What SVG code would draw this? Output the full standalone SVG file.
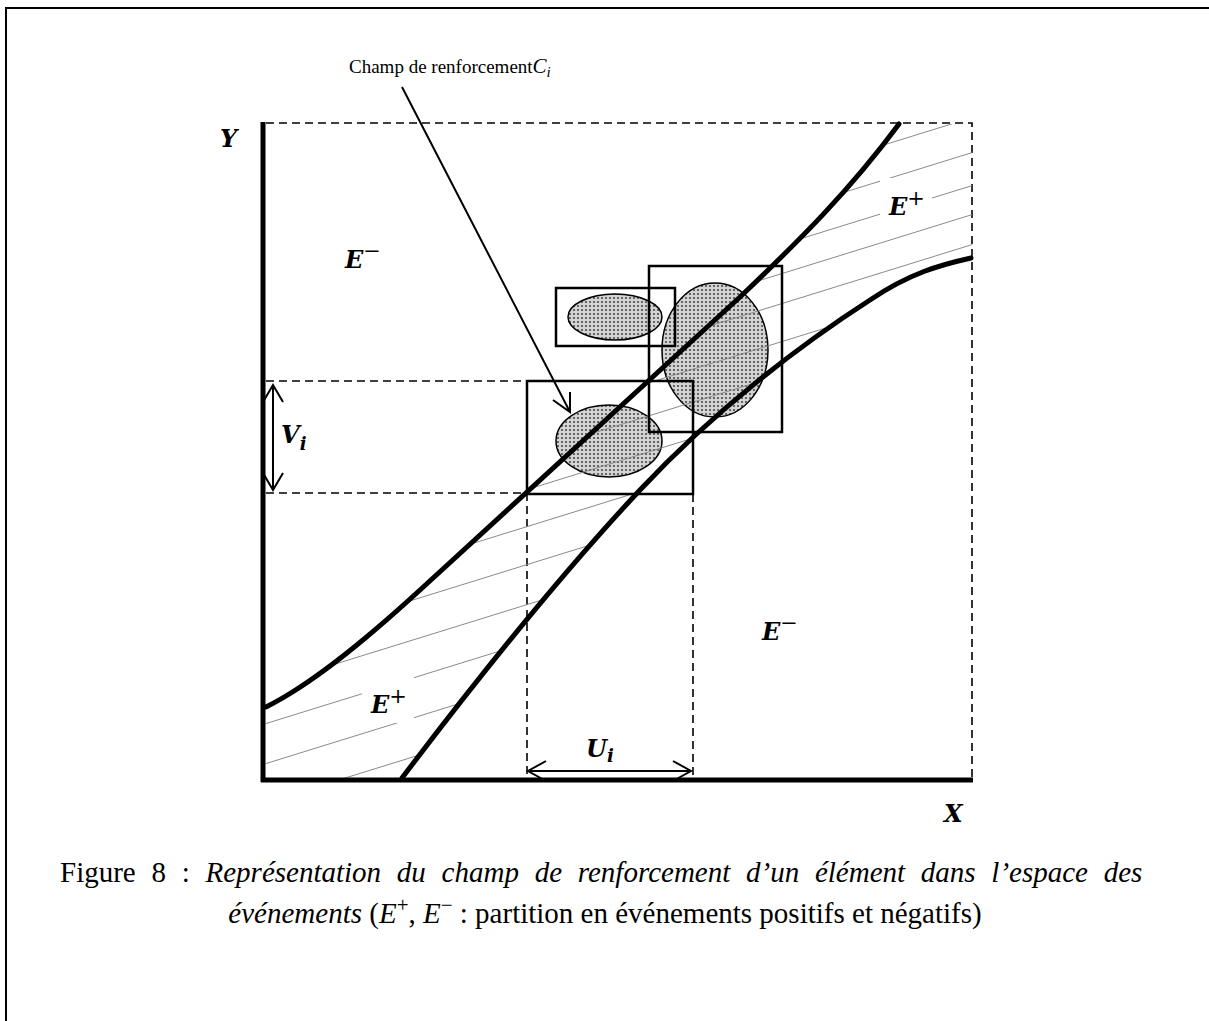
<svg xmlns="http://www.w3.org/2000/svg" width="1209" height="1021" viewBox="0 0 1209 1021">
<style>
.axis{stroke:#000;stroke-width:5;fill:none}
.curve{stroke:#000;stroke-width:5;fill:none;stroke-linecap:round}
.dash{stroke:#000;stroke-width:1.6;fill:none;stroke-dasharray:8 5}
.box{stroke:#000;stroke-width:2.5;fill:none}
.ell{stroke:#000;stroke-width:1.5;fill:url(#dots)}
.hatch{stroke:#8a8a8a;stroke-width:1;fill:none}
.arr{stroke:#000;stroke-width:2;fill:none}
.math{font-family:"DejaVu Serif","Liberation Serif",serif;font-weight:bold;font-style:italic;font-size:24px;fill:#000}
.sup{font-family:"DejaVu Serif","Liberation Serif",serif;font-size:21px;fill:#000}
.cap{font-family:"Liberation Serif","Times New Roman",serif;font-size:29px;fill:#000}
.lbl{font-family:"Liberation Serif","Times New Roman",serif;font-size:19px;fill:#000}
</style>
<defs>
<pattern id="dots" width="4" height="4" patternUnits="userSpaceOnUse">
<rect width="4" height="4" fill="#d4d4d4"/>
<circle cx="2" cy="2" r="1.1" fill="#4a4a4a"/>
</pattern>
<mask id="band" maskUnits="userSpaceOnUse" x="0" y="0" width="1209" height="1021">
<path fill="#fff" d="M266,707 C310,685 360,645 420,590 L740,297 C800,240 850,190 899,124 L972,124 L972,258 C940,265 910,273 870,300 C800,345 715,410 640,490 C565,570 480,675 402,778 L266,778 Z"/>
<rect x="880" y="178" width="52" height="44" fill="#000"/>
<rect x="362" y="673" width="52" height="50" fill="#000"/>
</mask>
</defs>
<path d="M6,1021 V8 H1209" stroke="#000" stroke-width="2" fill="none"/>
<g id="frame">
<path class="dash" d="M266,123 H972 V778"/>
<path class="dash" d="M266,381 H527 M266,493 H527"/>
<path class="dash" d="M527,493 V778 M693,494 V778"/>
</g>
<g id="ellipses">
<ellipse id="e1" class="ell" cx="615" cy="317" rx="47" ry="23"/>
<ellipse id="e2" class="ell" cx="715" cy="350" rx="53" ry="67"/>
<ellipse id="e3" class="ell" cx="609" cy="441" rx="53" ry="36"/>
</g>
<g id="hatching" mask="url(#band)">
<path class="hatch" d="M260,338.4 L975,116.7 M260,373.4 L975,151.7 M260,406.4 L975,184.7 M260,435.4 L975,213.7 M260,465.4 L975,243.7 M260,503.4 L975,281.7 M260,536.4 L975,314.7 M260,572.4 L975,350.7 M260,609.4 L975,387.7 M260,647.4 L975,425.7 M260,687.4 L975,465.7 M260,725.4 L975,503.7 M260,765.4 L975,543.7 M260,804.4 L975,582.7"/>
</g>
<g id="boxes">
<rect id="boxB" class="box" x="556" y="288" width="119" height="58"/>
<rect id="boxC" class="box" x="649" y="266" width="133" height="166"/>
<rect id="boxA" class="box" x="527" y="381" width="166" height="113"/>
</g>
<g id="curves">
<path id="upper" class="curve" d="M266,707 C310,685 360,645 420,590 L740,297 C800,240 850,190 899,124"/>
<path id="lower" class="curve" d="M402,778 C480,675 565,570 640,490 C715,410 800,345 870,300 C910,273 940,265 971,258"/>
</g>
<g id="axes">
<path class="axis" d="M263,122 V782"/>
<path class="axis" d="M261,780 H973"/>
</g>
<g id="connectors">
<path class="arr" d="M402,87 L570,412 M553,400 L570,412 L570,392"/>
<path class="arr" d="M273,385 V490 M263,402 L273,385 L283,402 M263,473 L273,490 L283,473"/>
<path class="arr" d="M528,771 H691 M546,761 L528,771 L546,781 M673,761 L691,771 L673,781"/>
</g>
<g id="labels">
<text class="lbl" x="349" y="73">Champ de renforcement<tspan font-style="italic" font-size="21">C</tspan><tspan font-style="italic" font-size="15" dy="4">i</tspan></text>
<text class="math" x="220" y="147">Y</text>
<text class="math" x="944" y="822">X</text>
<text class="math" x="345" y="268">E<tspan class="sup" font-weight="normal" font-style="normal" dy="-10">−</tspan></text>
<text class="math" x="889" y="215">E<tspan class="sup" font-weight="normal" font-style="normal" dy="-10">+</tspan></text>
<text class="math" x="371" y="713">E<tspan class="sup" font-weight="normal" font-style="normal" dy="-10">+</tspan></text>
<text class="math" x="762" y="640">E<tspan class="sup" font-weight="normal" font-style="normal" dy="-10">−</tspan></text>
<text class="math" x="281" y="443">V<tspan font-size="18" dy="7">i</tspan></text>
<text class="math" x="586" y="757">U<tspan font-size="18" dy="5">i</tspan></text>
</g>
<g id="caption">
<text class="cap" x="60" y="882" word-spacing="8.5">Figure 8 : <tspan font-style="italic">Représentation du champ de renforcement d’un élément dans l’espace des</tspan></text>
<text class="cap" x="605" y="923" text-anchor="middle"><tspan font-style="italic">événements</tspan> (<tspan font-style="italic">E</tspan><tspan font-size="21" dy="-11">+</tspan><tspan dy="11">, </tspan><tspan font-style="italic">E</tspan><tspan font-size="21" dy="-11">−</tspan><tspan dy="11"> : partition en événements positifs et négatifs)</tspan></text>
</g>
</svg>
